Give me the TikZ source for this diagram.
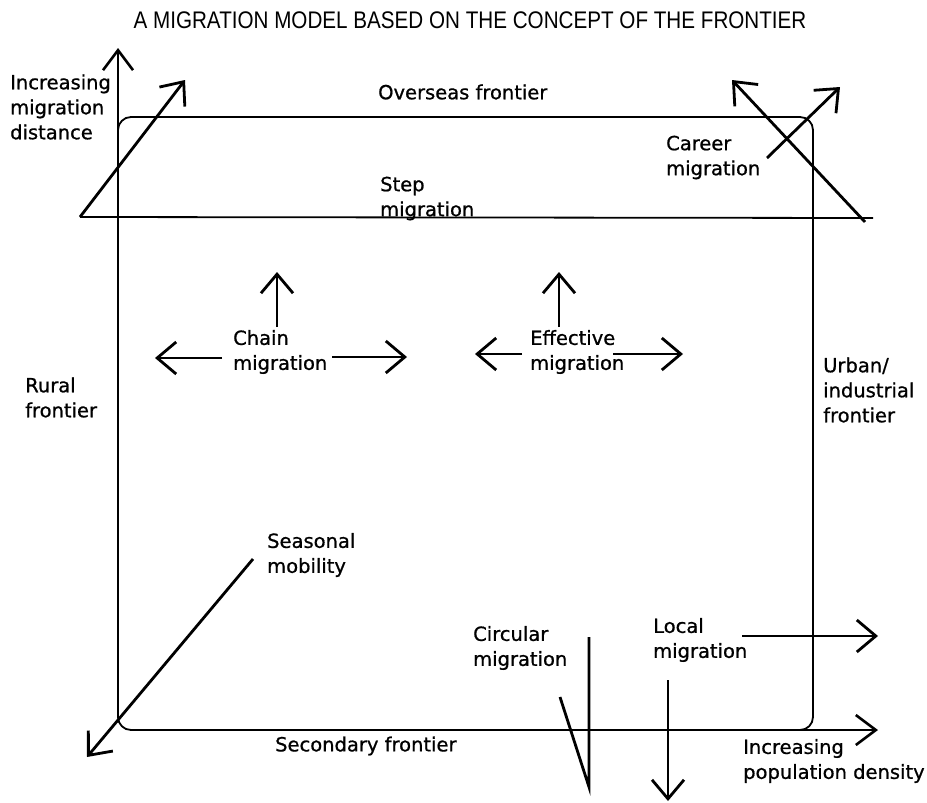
\documentclass[tikz,border=0pt]{standalone}
\usepackage{fontspec}
\setmainfont[FakeBold=0.8]{DejaVu Sans}
\newfontfamily\titlefont[FakeStretch=0.86]{Liberation Sans}
\usetikzlibrary{arrows.meta}

\begin{document}
\begin{tikzpicture}[x=1pt,y=-1pt]

		\useasboundingbox (0,0) rectangle (927,803);

		\tikzstyle{label}=[anchor=west, align=left, inner sep=0pt, font=\fontsize{19.5}{25}\selectfont]
		\tikzstyle{frontier}=[line width=1.8pt, rounded corners=13pt]
		\tikzstyle{axis}=[line width=1.8pt, -{Straight Barb[length=20pt,width=30pt,line width=2.6pt]}]
		\tikzstyle{move}=[line width=2.8pt, -{Straight Barb[length=19pt,width=32pt]}]
		\tikzstyle{plain}=[line width=2.8pt]

		\node[inner sep=0pt, font=\titlefont\fontsize{24}{28}\selectfont] (T) at (470,20) {A MIGRATION MODEL BASED ON THE CONCEPT OF THE FRONTIER};

		% frontiers and axes
		\draw[frontier] (118,117) rectangle (813,730);
		\draw[axis] (118,130) -- (118,48);
		\draw[axis] (800,730) -- (878,730);
		\draw[line width=1.8pt] (80,217) -- (873,218);

		\node[label] (D) at (10,107) {Increasing\\migration\\distance};
		\node[label] (O) at (378,92) {Overseas frontier};
		\node[label] (S) at (380,198.5) {Step\\migration};
		\node[label] (C) at (666,157.5) {Career\\migration};
		\node[label] (R) at (25,397.5) {Rural\\frontier};
		\node[label] (U) at (823,390) {Urban/\\industrial\\frontier};
		\node[label] (F) at (275,746) {Secondary frontier};
		\node[label] (P) at (743,761) {Increasing\\population density};

		% migration types
		\node[label] (Ch) at (233,352) {Chain\\migration};
		\node[label] (E) at (530,352) {Effective\\migration};
		\node[label] (M) at (267,555) {Seasonal\\mobility};
		\node[label] (Ci) at (473,648) {Circular\\migration};
		\node[label] (L) at (653,640) {Local\\migration};

		\draw[move] (80,217) -- (185,80);
		\draw[move] (865,222) -- (732,80);
		\draw[move] (767,158) -- (840,87);

		\draw[move] (277,327) -- (277,272);
		\draw[move] (222,358) -- (155,358);
		\draw[move] (332,357) -- (407,357);

		\draw[move] (559,327) -- (559,272);
		\draw[move] (522,354) -- (475,354);
		\draw[move] (613,354) -- (683,354);

		\draw[move] (253,559) -- (87,757);
		\draw[plain] (560,697) -- (589,787) -- (589,637);
		\draw[move] (742,636) -- (878,636);
		\draw[move] (668,680) -- (668,801);

	\end{tikzpicture}
\end{document}
